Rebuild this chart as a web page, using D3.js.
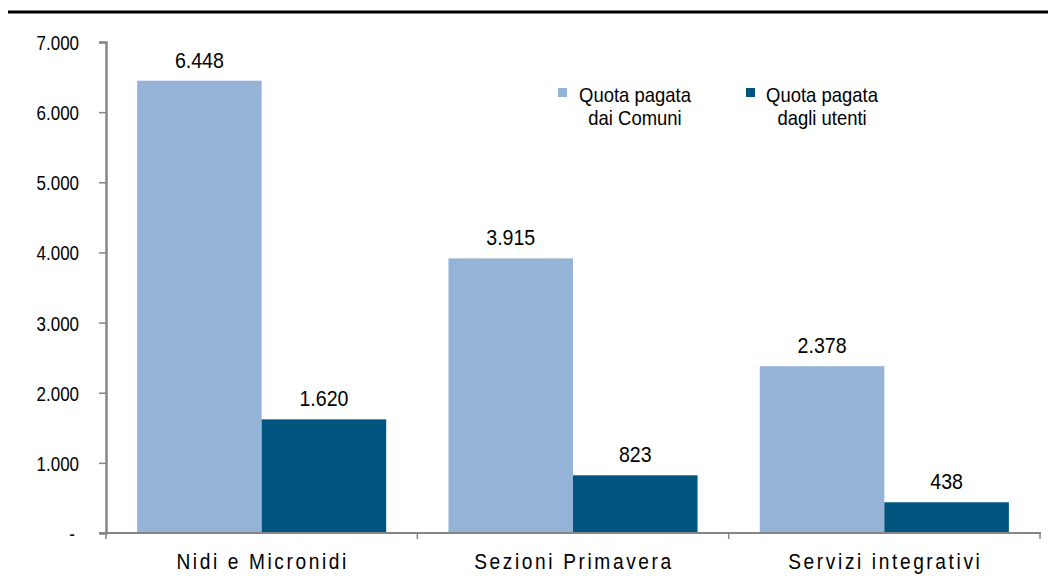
<!DOCTYPE html>
<html><head><meta charset="utf-8">
<script src="https://cdn.jsdelivr.net/npm/d3@7"></script>
<style>
body{margin:0;background:#fff;}
text{font-family:"Liberation Sans",Arial,sans-serif;fill:#000;}
</style></head>
<body><svg id="c" width="1048" height="581"></svg>
<script>
const categories = ["Nidi e Micronidi","Sezioni Primavera","Servizi integrativi"];
const seriesNames = ["Quota pagata dai Comuni","Quota pagata dagli utenti"];
const legendLines = [["Quota pagata","dai Comuni"],["Quota pagata","dagli utenti"]];
const comuni = [6448, 3915, 2378];
const utenti = [1620, 823, 438];
const yTicks = [0,1000,2000,3000,4000,5000,6000,7000];
const colors = ["#95B3D7","#00557F"];

(function(){
const svg = d3.select("#c");
const fmt = v => v === 0 ? "-" : d3.format(",")(v).replace(/,/g,".");
const SX = 0.87;
// condensed text: anchor point (px,py), compressed horizontally
function ctext(parent, px, py, str, size, anchor, spacing){
  const t = parent.append("text")
    .attr("transform",`translate(${px},${py}) scale(${SX},1)`)
    .attr("text-anchor",anchor).attr("font-size",size).text(str);
  if (spacing) t.attr("letter-spacing",spacing);
  return t;
}

svg.append("line").attr("x1",8).attr("x2",1048).attr("y1",12).attr("y2",12)
  .attr("stroke","#000").attr("stroke-width",3);

const L=106, R=1040, T=42, B=533;
const x = d3.scaleBand().domain(categories).range([L,R]).paddingInner(0.2).paddingOuter(0.1);
const x0 = d3.scaleBand().domain(categories).range([L,R]).padding(0);
const xs = d3.scaleBand().domain([0,1]).range([0,x.bandwidth()]);
const y = d3.scaleLinear().domain([0,7000]).range([B,T]);

// y axis
const ya = svg.append("g").attr("transform",`translate(${L},0)`)
  .call(d3.axisLeft(y).tickValues(yTicks).tickFormat("").tickSize(7));
ya.select(".domain").attr("stroke","#868686").attr("stroke-width",2.5);
ya.selectAll(".tick line").attr("stroke","#868686").attr("stroke-width",1.5);
yTicks.forEach(v=>{
  ctext(svg, v===0 ? 75 : 79, y(v)+8, fmt(v), 19.5, "end");
});

// bars
const data = categories.map((c,i)=>({c, vals:[comuni[i],utenti[i]]}));
const g = svg.append("g");
data.forEach(d=>{
  d.vals.forEach((v,j)=>{
    const bx = x(d.c)+xs(j);
    g.append("rect").attr("x",bx).attr("width",xs.bandwidth())
      .attr("y",y(v)).attr("height",y(0)-y(v)).attr("fill",colors[j]);
    ctext(g, bx+xs.bandwidth()/2, y(v)-13, fmt(v), 22.5, "middle");
  });
});

// x axis
const xa = svg.append("g").attr("transform",`translate(0,${B})`);
xa.append("line").attr("x1",L-7).attr("x2",R+1).attr("y1",0).attr("y2",0)
  .attr("stroke","#868686").attr("stroke-width",2);
[L, ...categories.map(c=>x0(c)+x0.bandwidth())].forEach(px=>{
  xa.append("line").attr("x1",px).attr("x2",px).attr("y1",0).attr("y2",6)
    .attr("stroke","#868686").attr("stroke-width",1.5);
});
categories.forEach(c=>{
  ctext(xa, x0(c)+x0.bandwidth()/2 + 1, 36, c, 22, "middle", "3px");
});

// legend (each entry one text element, wrapped into two tspans)
const legendPos = [{sx:558, cx:635},{sx:746, cx:822}];
legendPos.forEach((l,i)=>{
  svg.append("rect").attr("x",l.sx).attr("y",88).attr("width",9).attr("height",9).attr("fill",colors[i]);
  const t = svg.append("text")
    .attr("transform",`translate(${l.cx},102) scale(0.9,1)`)
    .attr("text-anchor","middle").attr("font-size",20.5);
  legendLines[i].forEach((s,k)=>{
    t.append("tspan").attr("x",0).attr("y",k*23).text(s);
  });
});
})();
</script></body></html>
